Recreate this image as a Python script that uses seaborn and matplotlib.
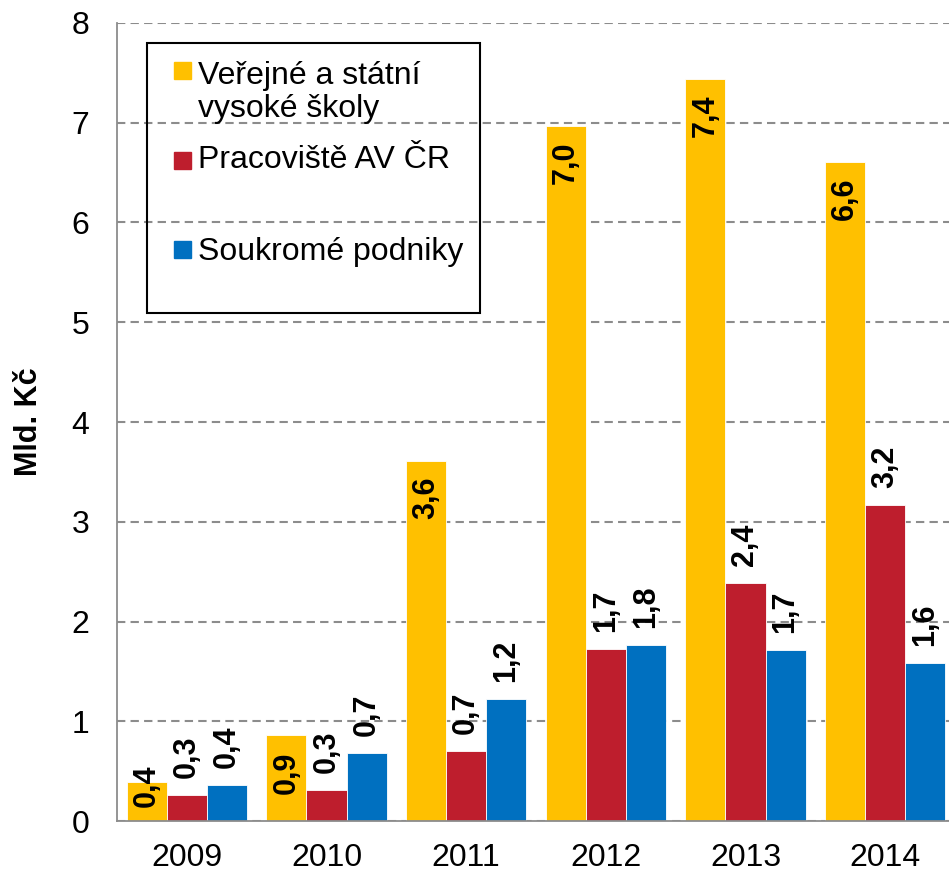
import numpy as np
import pandas as pd
import matplotlib
matplotlib.use("Agg")
import matplotlib.pyplot as plt
import seaborn as sns
from matplotlib.patches import Rectangle

# data (Mld. Kč)
years = ["2009", "2010", "2011", "2012", "2013", "2014"]
series = ["Veřejné a státní\nvysoké školy", "Pracoviště AV ČR", "Soukromé podniky"]
vs = [0.39, 0.86, 3.61, 6.97, 7.44, 6.61]     # Veřejné a státní vysoké školy
av = [0.26, 0.31, 0.70, 1.72, 2.39, 3.17]     # Pracoviště AV ČR
firms = [0.36, 0.68, 1.22, 1.76, 1.71, 1.58]  # Soukromé podniky
colors = ["#FFC000", "#BE1E2D", "#0070C0"]

W, H = 949, 872
FONT = ["Liberation Sans", "DejaVu Sans"]


def fx(x):
    return x / W


def fy(y):
    return 1 - y / H


def main():
    sns.set_theme(style="white")
    plt.rcParams["font.family"] = FONT
    plt.rcParams["text.color"] = "black"
    plt.rcParams["axes.labelcolor"] = "black"

    df = pd.DataFrame({
        "year": years * 3,
        "series": [series[0]] * 6 + [series[1]] * 6 + [series[2]] * 6,
        "value": vs + av + firms,
    })

    fig = plt.figure(figsize=(W / 100, H / 100), dpi=100)
    ax = fig.add_axes([fx(117), fy(821), fx(955 - 117), (821 - 23) / H])

    sns.barplot(data=df, x="year", y="value", hue="series", hue_order=series,
                palette=colors, width=0.86, gap=0, saturation=1,
                errorbar=None, legend=False, edgecolor="white", linewidth=0.6,
                ax=ax)

    ax.set_ylim(0, 8)
    ax.set_xlim(-0.5, 5.5)
    ax.set_yticks(range(0, 9))
    ax.set_xlabel("")
    ax.set_ylabel("Mld. Kč", fontsize=22, fontweight="bold", labelpad=20,
                  color="black")

    grey = "#8C8C8C"
    ax.yaxis.grid(True, color=grey, linestyle=(0, (4, 2.5)), linewidth=1.5)
    ax.set_axisbelow(True)
    for s in ["top", "right"]:
        ax.spines[s].set_visible(False)
    for s in ["left", "bottom"]:
        ax.spines[s].set_color(grey)
        ax.spines[s].set_linewidth(1.3)

    ax.tick_params(axis="y", direction="inout", length=12, width=1.1,
                   color=grey, labelsize=23, pad=14, labelcolor="black")
    ax.tick_params(axis="x", which="major", length=0, labelsize=23, pad=16,
                   labelcolor="black")
    ax.set_xticks(np.arange(-0.5, 6, 1), minor=True)
    ax.tick_params(axis="x", which="minor", direction="out", length=8,
                   width=1.1, color=grey)

    # value labels, rotated like in the original
    values = [vs, av, firms]
    for k, cont in enumerate(ax.containers):
        for bar, v in zip(cont.patches, values[k]):
            xc = bar.get_x() + bar.get_width() / 2
            txt = f"{v:.1f}".replace(".", ",")
            if k == 0:
                ax.text(xc, max(v - 0.16, 0.57), txt, rotation=90, ha="center",
                        va="top", fontsize=22, fontweight="bold", color="black")
            else:
                ax.text(xc, v + 0.17, txt, rotation=90, ha="center",
                        va="bottom", fontsize=22, fontweight="bold",
                        color="black")

    # legend box drawn like the Excel one
    fig.add_artist(Rectangle((fx(147), fy(313)), fx(480 - 147), (313 - 43) / H,
                             transform=fig.transFigure, fill=False,
                             edgecolor="black", linewidth=1.5))
    marks = [(62, 80), (152, 168), (241, 260)]
    for (top, base), lab, c in zip(marks, series, colors):
        fig.add_artist(Rectangle((fx(174), fy(top + 17)), fx(17), 17 / H,
                                 transform=fig.transFigure, color=c))
        # baseline of the last line of the label
        last = base + 37 * lab.count("\n")
        fig.text(fx(198), fy(last), lab, fontsize=23, va="baseline",
                 ha="left", linespacing=1.12, color="black")

    fig.savefig("out.png", dpi=100)


if __name__ == "__main__":
    main()
